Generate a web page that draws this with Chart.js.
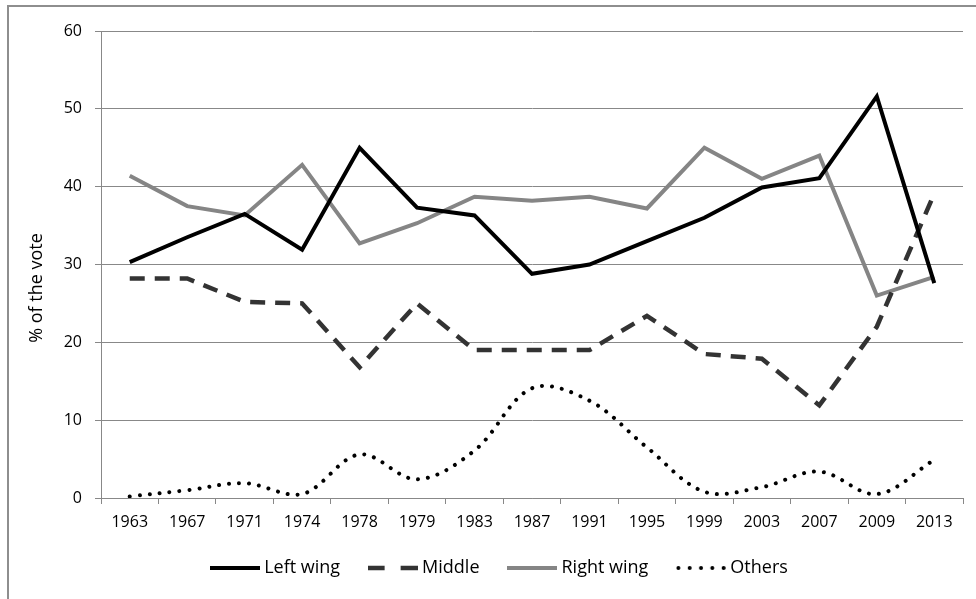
<!DOCTYPE html>
<html>
<head>
<title>Share of the vote</title>
<style>
body { margin:0; background:#fff; overflow:hidden; }
#frame {
    position:absolute; left:7px; top:5px; width:1200px; height:800px;
    border-top:2px solid #8e8e8e; border-left:2px solid #8e8e8e;
}
#wrap { position:absolute; left:0; top:0; width:976px; height:599px; }
</style>
</head>
<body>
<div id="frame"></div>
<div id="wrap"><canvas id="myChart"></canvas></div>
<script src="https://cdn.jsdelivr.net/npm/chart.js@4/dist/chart.umd.min.js"></script>
<script type="text/javascript">

var years = ['1963','1967','1971','1974','1978','1979','1983','1987','1991','1995','1999','2003','2007','2009','2013'];
var leftWing  = [30.3, 33.5, 36.5, 31.9, 45.0, 37.3, 36.3, 28.8, 30.0, 33.0, 36.0, 39.9, 41.1, 51.6, 27.6];
var middle    = [28.2, 28.2, 25.2, 25.0, 16.8, 25.0, 19.0, 19.0, 19.0, 23.4, 18.5, 17.9, 11.9, 22.0, 39.1];
var rightWing = [41.4, 37.5, 36.3, 42.8, 32.7, 35.3, 38.7, 38.2, 38.7, 37.2, 45.0, 41.0, 44.0, 26.0, 28.4];
var others    = [0.2, 1.0, 1.9, 0.5, 5.6, 2.4, 6.1, 14.1, 12.5, 6.5, 0.8, 1.4, 3.4, 0.5, 4.9];
var yMin = 0, yMax = 60, yStep = 10;
var yAxisTitle = '% of the vote';

var gridColor = '#888888';
var FONT = "'Open Sans', sans-serif";

// little canvases used as legend samples (chart.js legend ignores dashes with pointStyle)
function legendSample(color, width, dash, cap) {
    var c = document.createElement('canvas');
    c.width = 50; c.height = 10;
    var g = c.getContext('2d');
    g.strokeStyle = color;
    g.lineWidth = width;
    g.lineCap = cap || 'butt';
    g.setLineDash(dash || []);
    g.beginPath();
    if (cap === 'round') { g.moveTo(2.5, 5); g.lineTo(48, 5); }
    else { g.moveTo(0, 5); g.lineTo(50, 5); }
    g.stroke();
    return c;
}

// y title drawn by hand: in the original it sits below the axis middle
var yTitlePlugin = {
    id: 'yTitle',
    afterDraw: function (chart) {
        var ctx = chart.ctx;
        ctx.save();
        ctx.translate(37, 288);
        ctx.rotate(-Math.PI / 2);
        ctx.font = '18px ' + FONT;
        ctx.fillStyle = '#000';
        ctx.textAlign = 'center';
        ctx.textBaseline = 'middle';
        ctx.fillText(yAxisTitle, 0, 0);
        ctx.restore();
    }
};

var config = {
    type: 'line',
    data: {
        labels: years,
        datasets: [{
            label: 'Left wing',
            data: leftWing,
            borderColor: '#000000',
            backgroundColor: '#000000',
            borderWidth: 4,
            pointStyle: legendSample('#000000', 4),
            tension: 0
        }, {
            label: 'Middle',
            data: middle,
            borderColor: '#333333',
            backgroundColor: '#333333',
            borderWidth: 4.5,
            borderDash: [15, 10],
            pointStyle: legendSample('#333333', 4.5, [17, 16]),
            tension: 0
        }, {
            label: 'Right wing',
            data: rightWing,
            borderColor: '#858585',
            backgroundColor: '#858585',
            borderWidth: 4,
            pointStyle: legendSample('#858585', 4),
            tension: 0
        }, {
            label: 'Others',
            data: others,
            borderColor: '#000000',
            backgroundColor: '#000000',
            borderWidth: 4,
            borderDash: [0.01, 10],
            borderCapStyle: 'round',
            pointStyle: legendSample('#000000', 4, [0.01, 11.3], 'round'),
            tension: 0.35
        }]
    },
    options: {
        responsive: true,
        maintainAspectRatio: false,
        animation: false,
        layout: { padding: { left: 39, right: 13, top: 31, bottom: 12 } },
        elements: { point: { radius: 0, hoverRadius: 0 } },
        plugins: {
            tooltip: { enabled: false },
            legend: {
                position: 'bottom',
                labels: {
                    usePointStyle: true,
                    pointStyleWidth: 41,
                    boxHeight: 18,
                    padding: 32,
                    color: '#000',
                    font: { family: FONT, size: 18 }
                }
            }
        },
        scales: {
            x: {
                offset: true,
                grid: { offset: true, drawOnChartArea: false, drawTicks: true, tickLength: 6, color: gridColor },
                border: { color: gridColor, width: 1 },
                ticks: { color: '#000', padding: 9, maxRotation: 0, autoSkip: false, font: { family: FONT, size: 16 } },
                afterFit: function (scale) { scale.height = 29; }
            },
            y: {
                min: yMin,
                max: yMax,
                ticks: { stepSize: yStep, color: '#000', padding: 13, font: { family: FONT, size: 16 } },
                grid: { color: gridColor, tickLength: 6 },
                border: { color: gridColor, width: 1 },
                afterFit: function (scale) { scale.width = 62; }
            }
        }
    },
    plugins: [yTitlePlugin]
};

window.onload = function () {
    var ctx = document.getElementById('myChart').getContext('2d');
    window.myLine = new Chart(ctx, config);
};
</script>
</body>
</html>
